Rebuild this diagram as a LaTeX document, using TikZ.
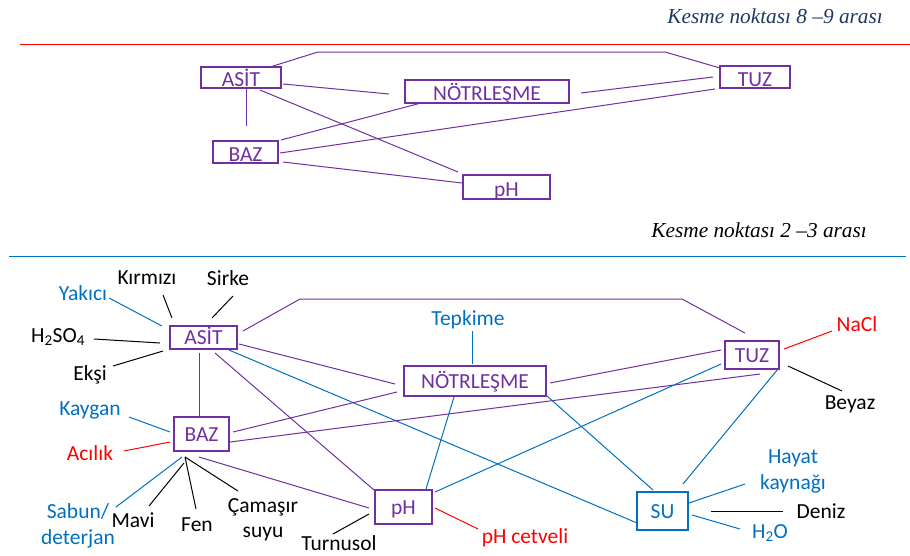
\documentclass[tikz,border=0pt]{standalone}
\usepackage{fontspec}
\setmainfont{Carlito}
\newfontfamily\baslikfont{Liberation Serif}
\definecolor{mor}{HTML}{7030A0}
\definecolor{mavi}{HTML}{0070C0}
\definecolor{kirmizi}{HTML}{FF0000}
\definecolor{lacivert}{HTML}{1F3864}
\tikzset{
  kutu/.style={draw, line width=1.2pt, inner sep=0pt, text height=14pt, text depth=0pt,
    font=\fontsize{21.5}{24}\selectfont},
  ustkutu/.style={draw=mor, text=mor, line width=1.2pt, inner sep=0pt, text height=18.5pt, text depth=0pt,
    font=\fontsize{21.5}{24}\selectfont},
  etiket/.style={inner sep=1pt, align=center, font=\fontsize{21.5}{25.5}\selectfont},
  baslik/.style={inner sep=0pt, font=\baslikfont\itshape\fontsize{21.3}{24}\selectfont},
  pline/.style={mor, line width=1pt},
  bline/.style={mavi, line width=1pt},
  rline/.style={kirmizi, line width=1pt},
  kline/.style={black, line width=1pt}
}

\begin{document}
\begin{tikzpicture}[x=1pt,y=-1pt]
\useasboundingbox (0,0) rectangle (910,555);

% Ust bolum: kesme noktasi 8-9
\node[baslik, text=lacivert, anchor=base east] (baslik1) at (883,23) {Kesme noktası 8 –9 arası};
\draw[kirmizi, line width=1pt] (20,44) -- (910,44);

\node[ustkutu, minimum width=80pt, minimum height=21pt] (tasit) at (241,77.5) {ASİT};
\node[ustkutu, minimum width=164pt, minimum height=23pt] (tnotr) at (487,91.5) {NÖTRLEŞME};
\node[ustkutu, minimum width=70pt, minimum height=22pt] (ttuz) at (755,77) {TUZ};
\node[ustkutu, minimum width=65pt, minimum height=22pt] (tbaz) at (245.5,152) {BAZ};
\node[ustkutu, minimum width=87pt, minimum height=24pt] (tph) at (506.5,187) {pH};

\coordinate (tk1) at (318,52);
\coordinate (tk2) at (665,52);
\draw[pline] ([xshift=29pt,yshift=10.5pt]tasit.center) -- (tk1) -- (tk2) -- ([xshift=-35pt,yshift=9pt]ttuz.center);
\draw[pline] ([xshift=42pt,yshift=-6.5pt]tasit.center) -- ([xshift=-98pt,yshift=-2.5pt]tnotr.center);
\draw[pline] ([xshift=5pt,yshift=-10.5pt]tasit.center) -- ([xshift=0.5pt,yshift=26pt]tbaz.center);
\draw[pline] ([xshift=19pt,yshift=-12.5pt]tasit.center) -- ([xshift=-48.5pt,yshift=15pt]tph.center);
\draw[pline] ([xshift=94pt,yshift=-1.5pt]tnotr.center) -- ([xshift=-42pt]ttuz.center);
\draw[pline] ([xshift=35.5pt,yshift=12pt]tbaz.center) -- ([xshift=-66pt,yshift=-11.5pt]tnotr.center);
\draw[pline] ([xshift=34.5pt,yshift=-1pt]tbaz.center) -- ([xshift=-40pt,yshift=-12pt]ttuz.center);
\draw[pline] ([xshift=37.5pt,yshift=-10pt]tbaz.center) -- ([xshift=-44.5pt,yshift=4pt]tph.center);

% Alt bolum: kesme noktasi 2-3
\node[baslik, text=black, anchor=base east] (baslik2) at (867,237) {Kesme noktası 2 –3 arası};
\draw[mavi, line width=1pt] (9,256) -- (906,256);

% kutular
\node[kutu, mor, minimum width=67pt, minimum height=23pt] (asit) at (203.5,337.5) {ASİT};
\node[kutu, mor, minimum width=55pt, minimum height=34pt] (baz) at (201.5,434) {BAZ};
\node[kutu, mor, minimum width=142pt, minimum height=30pt] (notr) at (475,381) {NÖTRLEŞME};
\node[kutu, mor, minimum width=54pt, minimum height=28pt] (tuz) at (752,355) {TUZ};
\node[kutu, mor, minimum width=57pt, minimum height=34pt] (ph) at (403.5,507) {pH};
\node[kutu, mavi, minimum width=51pt, minimum height=38pt] (su) at (662.5,511) {SU};

% etiketler
\node[etiket, mavi] (yakici) at (83,293) {Yakıcı};
\node[etiket] (kirmizi) at (147,278) {Kırmızı};
\node[etiket] (sirke) at (228,278) {Sirke};
\node[etiket] (hso) at (58,337) {H\textsubscript{2}SO\textsubscript{4}};
\node[etiket] (eksi) at (90,375) {Ekşi};
\node[etiket, mavi] (kaygan) at (90,410) {Kaygan};
\node[etiket, kirmizi] (acilik) at (90,453) {Acılık};
\node[etiket, mavi] (sabun) at (78,526) {Sabun/\\deterjan};
\node[etiket] (mavi) at (133,520) {Mavi};
\node[etiket] (fen) at (197,525) {Fen};
\node[etiket] (camasir) at (263,519.5) {Çamaşır\\suyu};
\node[etiket] (turnusol) at (339,543) {Turnusol};
\node[etiket, kirmizi] (phcet) at (525,538) {pH cetveli};
\node[etiket, mavi] (tepkime) at (468,320) {Tepkime};
\node[etiket, kirmizi] (nacl) at (857,324) {NaCl};
\node[etiket] (beyaz) at (850,404) {Beyaz};
\node[etiket, mavi] (hayat) at (793,471.5) {Hayat\\kaynağı};
\node[etiket] (deniz) at (821,511) {Deniz};
\node[etiket, mavi] (hto) at (770,533) {H\textsubscript{2}O};

% ASIT baglantilari
\draw[bline] ([xshift=26pt,yshift=-5pt]yakici.center) -- ([xshift=-41.5pt,yshift=11.5pt]asit.center);
\draw[kline] ([xshift=16pt,yshift=-17pt]kirmizi.center) -- ([xshift=-31.5pt,yshift=19.5pt]asit.center);
\draw[kline] ([xshift=5pt,yshift=-18pt]sirke.center) -- ([xshift=8.5pt,yshift=19.5pt]asit.center);
\draw[kline] ([xshift=36pt,yshift=-2pt]hso.center) -- ([xshift=-43.5pt,yshift=-5.5pt]asit.center);
\draw[kline] ([xshift=23pt,yshift=9pt]eksi.center) -- ([xshift=-40.5pt,yshift=-13.5pt]asit.center);
\coordinate (ak1) at (300,299);
\coordinate (ak2) at (682,299);
\draw[pline] ([xshift=39.5pt,yshift=6.5pt]asit.center) -- (ak1) -- (ak2) -- ([xshift=-7pt,yshift=22pt]tuz.center);
\draw[pline] ([xshift=35.5pt,yshift=-6.5pt]asit.center) -- ([xshift=-80pt,yshift=-3pt]notr.center);
\draw[pline] ([xshift=-4.5pt,yshift=-15.5pt]asit.center) -- ([xshift=-2.5pt,yshift=17pt]baz.center);
\draw[pline] ([xshift=11.5pt,yshift=-15.5pt]asit.center) -- ([xshift=-29.5pt,yshift=17pt]ph.center);
\draw[bline] ([xshift=25.5pt,yshift=-12.5pt]asit.center) -- ([xshift=-25.5pt,yshift=-12pt]su.center);

% BAZ baglantilari
\draw[bline] ([xshift=39pt,yshift=-7pt]kaygan.center) -- ([xshift=-31.5pt,yshift=2pt]baz.center);
\draw[rline] ([xshift=34pt,yshift=2pt]acilik.center) -- ([xshift=-31.5pt,yshift=-8pt]baz.center);
\draw[bline] ([xshift=38pt,yshift=19pt]sabun.center) -- ([xshift=-19.5pt,yshift=-23pt]baz.center);
\draw[kline] ([xshift=16pt,yshift=14pt]mavi.center) -- ([xshift=-17.5pt,yshift=-29pt]baz.center);
\draw[kline] ([xshift=-1pt,yshift=16pt]fen.center) -- ([xshift=-16.5pt,yshift=-23pt]baz.center);
\draw[kline] ([xshift=-25pt,yshift=28.5pt]camasir.center) -- ([xshift=-16.5pt,yshift=-23pt]baz.center);
\draw[pline] ([xshift=31.5pt,yshift=2pt]baz.center) -- ([xshift=-78pt,yshift=-11pt]notr.center);
\draw[pline] ([xshift=28.5pt,yshift=-8pt]baz.center) -- ([xshift=8pt,yshift=-19pt]tuz.center);
\draw[pline] ([xshift=-2.5pt,yshift=-23pt]baz.center) -- ([xshift=-34.5pt,yshift=-1pt]ph.center);

% NOTRLESME baglantilari
\draw[bline] ([xshift=4pt,yshift=-11pt]tepkime.center) -- ([xshift=-3pt,yshift=17pt]notr.center);
\draw[pline] ([xshift=75pt,yshift=-2pt]notr.center) -- ([xshift=-31pt,yshift=5pt]tuz.center);
\draw[bline] ([xshift=-21pt,yshift=-16pt]notr.center) -- ([xshift=22.5pt,yshift=18pt]ph.center);
\draw[bline] ([xshift=72pt,yshift=-15pt]notr.center) -- ([xshift=-9.5pt,yshift=21pt]su.center);

% pH baglantilari
\draw[bline] ([xshift=31.5pt,yshift=15pt]ph.center) -- ([xshift=-31pt,yshift=-9pt]tuz.center);
\draw[kline] ([xshift=-6pt,yshift=9pt]turnusol.center) -- ([xshift=-34.5pt,yshift=-7pt]ph.center);
\draw[rline] ([xshift=31.5pt,yshift=-1pt]ph.center) -- ([xshift=-47pt,yshift=9pt]phcet.center);

% TUZ ve SU baglantilari
\draw[bline] ([xshift=26pt,yshift=-14pt]tuz.center) -- ([xshift=20.5pt,yshift=27pt]su.center);
\draw[rline] ([xshift=32pt,yshift=6pt]tuz.center) -- ([xshift=-25pt,yshift=-7pt]nacl.center);
\draw[kline] ([xshift=36pt,yshift=-11pt]tuz.center) -- ([xshift=-8pt,yshift=13pt]beyaz.center);
\draw[bline] ([xshift=26.5pt,yshift=8pt]su.center) -- ([xshift=-48pt,yshift=-12.5pt]hayat.center);
\draw[kline] ([xshift=48.5pt]su.center) -- ([xshift=-38pt]deniz.center);
\draw[bline] ([xshift=29.5pt,yshift=-4pt]su.center) -- ([xshift=-30pt,yshift=4pt]hto.center);
\end{tikzpicture}
\end{document}
